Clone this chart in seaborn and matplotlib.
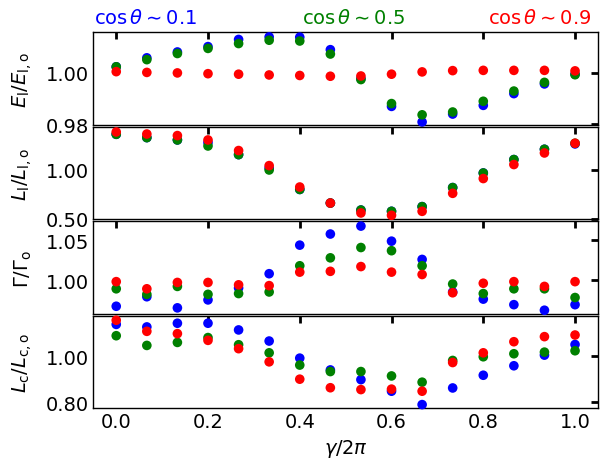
import numpy as np
import pandas as pd
import seaborn as sns
import matplotlib.pyplot as plt

# gamma / 2pi sample positions (16 points, 0 .. 1)
gamma = [0.0, 0.0667, 0.1333, 0.2, 0.2667, 0.3333, 0.4, 0.4667,
         0.5333, 0.6, 0.6667, 0.7333, 0.8, 0.8667, 0.9333, 1.0]

# E_l / E_l,o
E_01 = [1.0024, 1.0059, 1.0082, 1.0103, 1.0131, 1.0141, 1.0140, 1.0091,
        0.9978, 0.9869, 0.9808, 0.9839, 0.9873, 0.9919, 0.9957, 0.9995]
E_05 = [1.0024, 1.0052, 1.0076, 1.0096, 1.0115, 1.0128, 1.0125, 1.0074,
        0.9974, 0.9880, 0.9836, 0.9847, 0.9889, 0.9929, 0.9963, 0.9993]
E_09 = [1.0005, 1.0002, 1.0000, 0.9997, 0.9995, 0.9992, 0.9990, 0.9987,
        0.9988, 0.9995, 1.0004, 1.0009, 1.0010, 1.0010, 1.0010, 1.0008]

# L_l / L_l,o
Ll_01 = [1.367, 1.333, 1.309, 1.282, 1.158, 1.020, 0.800, 0.660,
         0.588, 0.575, 0.623, 0.819, 0.969, 1.107, 1.213, 1.268]
Ll_05 = [1.367, 1.333, 1.309, 1.247, 1.158, 1.000, 0.800, 0.660,
         0.588, 0.575, 0.623, 0.819, 0.969, 1.107, 1.213, 1.275]
Ll_09 = [1.391, 1.370, 1.354, 1.309, 1.200, 1.045, 0.825, 0.660,
         0.558, 0.534, 0.575, 0.760, 0.912, 1.056, 1.175, 1.275]

# Gamma / Gamma_o
G_01 = [0.967, 0.979, 0.965, 0.975, 0.990, 1.008, 1.044, 1.058,
        1.068, 1.049, 1.026, 0.985, 0.976, 0.969, 0.962, 0.969]
G_05 = [0.989, 0.982, 0.992, 0.982, 0.983, 0.985, 1.018, 1.028,
        1.041, 1.037, 1.018, 0.995, 0.983, 0.989, 0.989, 0.978]
G_09 = [0.998, 0.989, 0.997, 0.997, 0.994, 0.993, 1.010, 1.011,
        1.017, 1.010, 1.007, 0.984, 0.996, 0.998, 0.992, 0.998]

# L_c / L_c,o
Lc_01 = [1.137, 1.126, 1.142, 1.142, 1.113, 1.065, 0.991, 0.940,
         0.898, 0.848, 0.790, 0.862, 0.917, 0.958, 1.004, 1.050]
Lc_05 = [1.088, 1.046, 1.059, 1.080, 1.049, 1.014, 0.961, 0.933,
         0.933, 0.914, 0.887, 0.981, 0.997, 1.010, 1.017, 1.023]
Lc_09 = [1.155, 1.107, 1.097, 1.068, 1.032, 0.975, 0.900, 0.863,
         0.855, 0.857, 0.848, 0.972, 1.014, 1.062, 1.084, 1.091]

groups = ['0.1', '0.5', '0.9']
colors = {'0.1': 'blue', '0.5': 'green', '0.9': 'red'}

panels = [
    (r'$E_\mathrm{l}/E_\mathrm{l,o}$', [E_01, E_05, E_09], (0.9797, 1.0159), [0.98, 1.00]),
    (r'$L_\mathrm{l}/L_\mathrm{l,o}$', [Ll_01, Ll_05, Ll_09], (0.493, 1.444), [0.50, 1.00]),
    (r'$\Gamma/\Gamma_\mathrm{o}$', [G_01, G_05, G_09], (0.9575, 1.074), [1.00, 1.05]),
    (r'$L_\mathrm{c}/L_\mathrm{c,o}$', [Lc_01, Lc_05, Lc_09], (0.774, 1.174), [0.80, 1.00]),
]

sns.set_style('white')
plt.rcParams['font.family'] = ['DejaVu Sans']
plt.rcParams['mathtext.fontset'] = 'dejavusans'
plt.rcParams['text.color'] = 'black'
plt.rcParams['axes.labelcolor'] = 'black'
plt.rcParams['xtick.color'] = 'black'
plt.rcParams['ytick.color'] = 'black'

fig, axes = plt.subplots(4, 1, sharex=True, figsize=(6.05, 4.6), dpi=100)
fig.subplots_adjust(left=0.1542, right=0.9884, top=0.9276, bottom=0.1102, hspace=0.022)

for ax, (label, series, ylim, yticks) in zip(axes, panels):
    frames = []
    for g, vals in zip(groups, series):
        frames.append(pd.DataFrame({'x': gamma, 'y': vals, 'c': g}))
    df = pd.concat(frames, ignore_index=True)
    sns.scatterplot(data=df, x='x', y='y', hue='c', palette=colors, s=48,
                    linewidth=0, legend=False, clip_on=False, ax=ax, zorder=3)
    ax.set_ylim(*ylim)
    ax.set_yticks(yticks)
    ax.set_yticklabels([f'{t:.2f}' for t in yticks])
    ax.set_ylabel(label, fontsize=14)
    ax.set_xlabel('')
    ax.tick_params(direction='in', top=True, right=True, length=5, width=2,
                   labelsize=14, color='black', labelcolor='black', pad=3)
    for sp in ax.spines.values():
        sp.set_color('black')
        sp.set_linewidth(1.0)
    ax.yaxis.set_label_coords(-0.117, 0.5)

axes[-1].set_xlim(-0.05, 1.05)
axes[-1].set_xticks([0.0, 0.2, 0.4, 0.6, 0.8, 1.0])
axes[-1].set_xticklabels(['0.0', '0.2', '0.4', '0.6', '0.8', '1.0'])
axes[-1].set_xlabel(r'$\gamma/2\pi$', fontsize=14, labelpad=4)

fig.text(0.156, 0.959, r'$\cos\theta\sim0.1$', color='blue', fontsize=14,
         ha='left', va='center')
fig.text(0.585, 0.959, r'$\cos\theta\sim0.5$', color='green', fontsize=14,
         ha='center', va='center')
fig.text(0.977, 0.959, r'$\cos\theta\sim0.9$', color='red', fontsize=14,
         ha='right', va='center')

plt.savefig('out.png', dpi=100)
plt.close()
